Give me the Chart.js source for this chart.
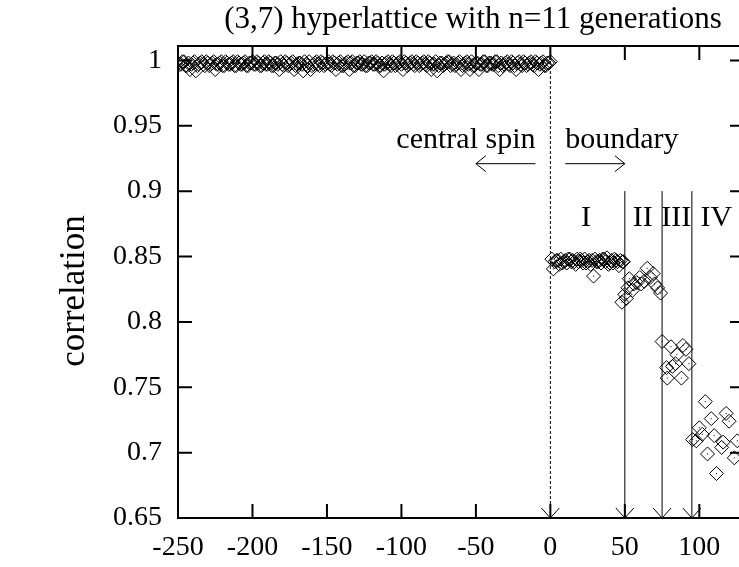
<!DOCTYPE html>
<html><head><meta charset="utf-8">
<script src="https://cdn.jsdelivr.net/npm/chart.js@4/dist/chart.umd.min.js"></script>
<style>
html,body{margin:0;padding:0;background:#fff;overflow:hidden;width:739px;height:567px}
#wrap{position:absolute;left:0;top:0;width:760px;height:567px}
</style>
</head><body><div id="wrap"><canvas id="c" width="760" height="567"></canvas></div>
<script>
// ---- data ----
const centralX = [-250,-248,-246,-244,-242,-240,-238,-236,-234,-232,
 -230,-228,-226,-224,-222,-220,-218,-216,-214,-212,
 -210,-208,-206,-204,-202,-200,-198,-196,-194,-192,
 -190,-188,-186,-184,-182,-180,-178,-176,-174,-172,
 -170,-168,-166,-164,-162,-160,-158,-156,-154,-152,
 -150,-148,-146,-144,-142,-140,-138,-136,-134,-132,
 -130,-128,-126,-124,-122,-120,-118,-116,-114,-112,
 -110,-108,-106,-104,-102,-100,-98,-96,-94,-92,
 -90,-88,-86,-84,-82,-80,-78,-76,-74,-72,
 -70,-68,-66,-64,-62,-60,-58,-56,-54,-52,
 -50,-48,-46,-44,-42,-40,-38,-36,-34,-32,
 -30,-28,-26,-24,-22,-20,-18,-16,-14,-12,
 -10,-8,-6,-4,-2,0];
const centralY = [0.998,0.997,0.999,0.996,0.993,0.998,0.992,0.997,0.999,0.996,
 0.998,0.997,0.999,0.997,0.998,0.996,0.999,0.997,0.998,0.996,
 0.999,0.997,0.998,0.996,0.998,0.999,0.997,0.998,0.996,0.999,
 0.997,0.998,0.996,0.998,0.993,0.997,0.999,0.996,0.998,0.993,
 0.997,0.998,0.992,0.997,0.999,0.996,0.998,0.997,0.999,0.996,
 0.998,0.997,0.999,0.993,0.998,0.996,0.997,0.999,0.998,0.996,
 0.998,0.999,0.997,0.996,0.998,0.999,0.997,0.998,0.996,0.992,
 0.998,0.997,0.999,0.996,0.998,0.997,0.999,0.996,0.998,0.997,
 0.999,0.996,0.998,0.997,0.999,0.993,0.997,0.992,0.998,0.996,
 0.998,0.999,0.997,0.996,0.998,0.993,0.997,0.999,0.993,0.996,
 0.998,0.993,0.997,0.999,0.996,0.998,0.997,0.999,0.993,0.996,
 0.998,0.997,0.999,0.996,0.998,0.997,0.999,0.996,0.998,0.997,
 0.999,0.993,0.998,0.996,0.998,0.999];
const centralXOdd = [-249,-247,-245,-243,-241,-239,-237,-235,-233,-231,
 -229,-227,-225,-223,-221,-219,-217,-215,-213,-211,
 -209,-207,-205,-203,-201,-199,-197,-195,-193,-191,
 -189,-187,-185,-183,-181,-179,-177,-175,-173,-171,
 -169,-167,-165,-163,-161,-159,-157,-155,-153,-151,
 -149,-147,-145,-143,-141,-139,-137,-135,-133,-131,
 -129,-127,-125,-123,-121,-119,-117,-115,-113,-111,
 -109,-107,-105,-103,-101,-99,-97,-95,-93,-91,
 -89,-87,-85,-83,-81,-79,-77,-75,-73,-71,
 -69,-67,-65,-63,-61,-59,-57,-55,-53,-51,
 -49,-47,-45,-43,-41,-39,-37,-35,-33,-31,
 -29,-27,-25,-23,-21,-19,-17,-15,-13,-11,
 -9,-7,-5,-3,-1];
const centralYOdd = [0.997,0.999,0.996,0.998,0.997,0.999,0.996,0.998,0.997,0.999,
 0.996,0.998,0.993,0.997,0.999,0.996,0.998,0.997,0.999,0.996,
 0.998,0.997,0.999,0.996,0.998,0.997,0.999,0.996,0.998,0.997,
 0.999,0.996,0.998,0.997,0.999,0.996,0.998,0.997,0.999,0.996,
 0.998,0.997,0.999,0.996,0.993,0.997,0.999,0.996,0.998,0.997,
 0.999,0.996,0.998,0.997,0.999,0.996,0.998,0.993,0.999,0.996,
 0.998,0.997,0.999,0.996,0.998,0.997,0.999,0.996,0.998,0.997,
 0.999,0.996,0.998,0.997,0.999,0.993,0.998,0.997,0.999,0.996,
 0.998,0.997,0.999,0.996,0.998,0.997,0.999,0.996,0.998,0.997,
 0.999,0.996,0.998,0.997,0.999,0.996,0.998,0.997,0.999,0.996,
 0.998,0.997,0.999,0.996,0.998,0.997,0.999,0.996,0.998,0.997,
 0.999,0.996,0.998,0.993,0.999,0.996,0.998,0.997,0.999,0.996,
 0.998,0.997,0.999,0.996,0.998];
const boundaryX = [1,2,3,5,6,7,9,10,11,13,14,15,17,18,19,21,22,23,25,26,27,29,30,31,33,34,35,37,38,39,41,42,43,45,46,47,49,
 4,8,12,16,20,24,28,32,36,40,44,48.5,
 48,50,51,52,53,55,56,58,60,61,63,65,67,69,70,72,74,
 75,78,78.5,81,82,84,85,88,89,91,93,
 95.5,98,100,102,104,105.5,108,110,111.5,115,116,118,120,123.5,125.5];
const boundaryY = [0.848,0.8405,0.846,0.847,0.844,0.848,0.846,0.847,0.845,0.848,0.846,0.847,0.844,0.848,0.846,0.847,0.845,0.848,0.846,0.847,0.844,0.835,0.848,0.846,0.847,0.845,0.848,0.846,0.849,0.844,0.847,0.845,0.848,0.846,0.843,0.847,0.846,
 0.847,0.845,0.848,0.846,0.848,0.845,0.847,0.846,0.848,0.845,0.847,0.846,
 0.815,0.821,0.818,0.826,0.833,0.824,0.829,0.830,0.834,0.829,0.831,0.841,0.834,0.837,0.829,0.826,0.822,
 0.785,0.765,0.757,0.781,0.766,0.768,0.775,0.757,0.782,0.779,0.768,
 0.710,0.709,0.719,0.714,0.739,0.699,0.726,0.713,0.684,0.704,0.708,0.730,0.724,0.696,0.709];
const xTicks = [-250,-200,-150,-100,-50,0,50,100];
const xTickLabels = ['-250','-200','-150','-100','-50','0','50','100'];
const yTicks = [0.65,0.7,0.75,0.8,0.85,0.9,0.95,1];
const yTickLabels = ['0.65','0.7','0.75','0.8','0.85','0.9','0.95','1'];
const regionNames = ['I','II','III','IV'];
const titleText = '(3,7) hyperlattice with n=11 generations';
const yAxisTitle = 'correlation';

// ---- annotation layout (not data) ----
const FAM = '"Liberation Serif", "Times New Roman", serif';
const dividers = [
  {x:0, from:1.011, to:0.65, dash:true},
  {x:50, from:0.9, to:0.65},
  {x:75, from:0.9, to:0.65},
  {x:95, from:0.9, to:0.65}
];
const regionLabelPos = [24, 62, 84.5, 111.5];

function head(ctx, tx, ty, dx, dy, len, half){
  const px = -dy, py = dx;
  ctx.moveTo(tx - dx*len + px*half, ty - dy*len + py*half);
  ctx.lineTo(tx, ty);
  ctx.lineTo(tx - dx*len - px*half, ty - dy*len - py*half);
}

const deco = {
  id:'deco',
  afterDatasetsDraw(chart){
    const {ctx, scales:{x, y}} = chart;
    ctx.save();
    ctx.fillStyle = '#000';
    chart.data.datasets.forEach((d,i)=>{
      chart.getDatasetMeta(i).data.forEach(el=>{ ctx.fillRect(el.x-0.5, el.y-0.5, 1, 1); });
    });
    ctx.strokeStyle = '#000'; ctx.lineWidth = 1;
    dividers.forEach(dv=>{
      const px = x.getPixelForValue(dv.x);
      const y0 = y.getPixelForValue(dv.from), y1 = y.getPixelForValue(dv.to);
      ctx.beginPath();
      ctx.setLineDash(dv.dash ? [3,2] : []);
      ctx.moveTo(px, y0); ctx.lineTo(px, y1);
      ctx.stroke();
      ctx.setLineDash([]);
      ctx.beginPath();
      head(ctx, px, y1, 0, 1, 10, 9);
      ctx.stroke();
    });
    const ay = y.getPixelForValue(0.921);
    ctx.beginPath();
    ctx.moveTo(x.getPixelForValue(-10), ay); ctx.lineTo(x.getPixelForValue(-50), ay);
    head(ctx, x.getPixelForValue(-50), ay, -1, 0, 10, 8);
    ctx.moveTo(x.getPixelForValue(10), ay); ctx.lineTo(x.getPixelForValue(50), ay);
    head(ctx, x.getPixelForValue(50), ay, 1, 0, 10, 8);
    ctx.stroke();
    ctx.font = '30px ' + FAM; ctx.fillStyle = '#000'; ctx.textBaseline = 'alphabetic';
    const ty = y.getPixelForValue(0.933);
    ctx.textAlign = 'right'; ctx.fillText('central spin', x.getPixelForValue(-10), ty);
    ctx.textAlign = 'left'; ctx.fillText('boundary', x.getPixelForValue(10), ty);
    ctx.textAlign = 'center';
    const ry = y.getPixelForValue(0.873);
    regionNames.forEach((n,i)=>ctx.fillText(n, x.getPixelForValue(regionLabelPos[i]), ry));
    ctx.restore();
  },
  afterDraw(chart){
    const {ctx, chartArea:a, scales:{x, y}} = chart;
    ctx.save();
    ctx.strokeStyle = '#000'; ctx.lineWidth = 2;
    ctx.strokeRect(a.left, a.top, a.right-a.left, a.bottom-a.top);
    const T = 14;
    ctx.beginPath();
    xTicks.forEach(v=>{const px=x.getPixelForValue(v); ctx.moveTo(px,a.bottom); ctx.lineTo(px,a.bottom-T); ctx.moveTo(px,a.top); ctx.lineTo(px,a.top+T);});
    yTicks.forEach(v=>{const py=y.getPixelForValue(v); ctx.moveTo(a.left,py); ctx.lineTo(a.left+T,py); ctx.moveTo(a.right,py); ctx.lineTo(a.right-T,py);});
    ctx.stroke();
    ctx.fillStyle = '#000';
    ctx.textAlign = 'center'; ctx.textBaseline = 'alphabetic';
    ctx.font = '31px ' + FAM;
    ctx.fillText(titleText, 473, 28);
    ctx.save();
    ctx.font = '35px ' + FAM;
    ctx.translate(75, 291); ctx.rotate(-Math.PI/2);
    ctx.textBaseline = 'middle';
    ctx.fillText(yAxisTitle, 0, 0);
    ctx.restore();
    ctx.restore();
  }
};

const pt = {pointStyle:'rectRot', pointRadius:7, pointHoverRadius:7, borderColor:'#000', borderWidth:1, backgroundColor:'rgba(0,0,0,0)', showLine:false};
const tickFont = {family:FAM, size:28};
const toPts = (xs, ys) => xs.map((v,i)=>({x:v, y:ys[i]}));

new Chart(document.getElementById('c'), {
  type:'scatter',
  data:{datasets:[
    Object.assign({label:'central', data: toPts(centralX, centralY)}, pt),
    Object.assign({label:'central odd', data: toPts(centralXOdd, centralYOdd)}, pt),
    Object.assign({label:'boundary', data: toPts(boundaryX, boundaryY)}, pt)
  ]},
  options:{
    responsive:false, animation:false, devicePixelRatio:1,
    layout:{padding:{left:0, right:16, top:46, bottom:0}},
    plugins:{legend:{display:false}, tooltip:{enabled:false}, title:{display:false}},
    scales:{
      x:{type:'linear', min:-250, max:130,
        afterBuildTicks:s=>{ s.ticks = xTicks.map(v=>({value:v})); },
        afterFit:s=>{ s.height = 49; },
        grid:{display:false, drawTicks:false}, border:{display:false},
        ticks:{padding:13, font:tickFont, color:'#000', maxRotation:0, autoSkip:false,
          callback:(v,i)=>xTickLabels[i]}},
      y:{type:'linear', min:0.65, max:1.011,
        afterBuildTicks:s=>{ s.ticks = yTicks.map(v=>({value:v})); },
        afterFit:s=>{ s.width = 178; },
        grid:{display:false, drawTicks:false}, border:{display:false},
        ticks:{padding:16, font:tickFont, color:'#000', autoSkip:false,
          callback:(v,i)=>yTickLabels[i]}}
    }
  },
  plugins:[deco]
});
</script>
</body></html>
